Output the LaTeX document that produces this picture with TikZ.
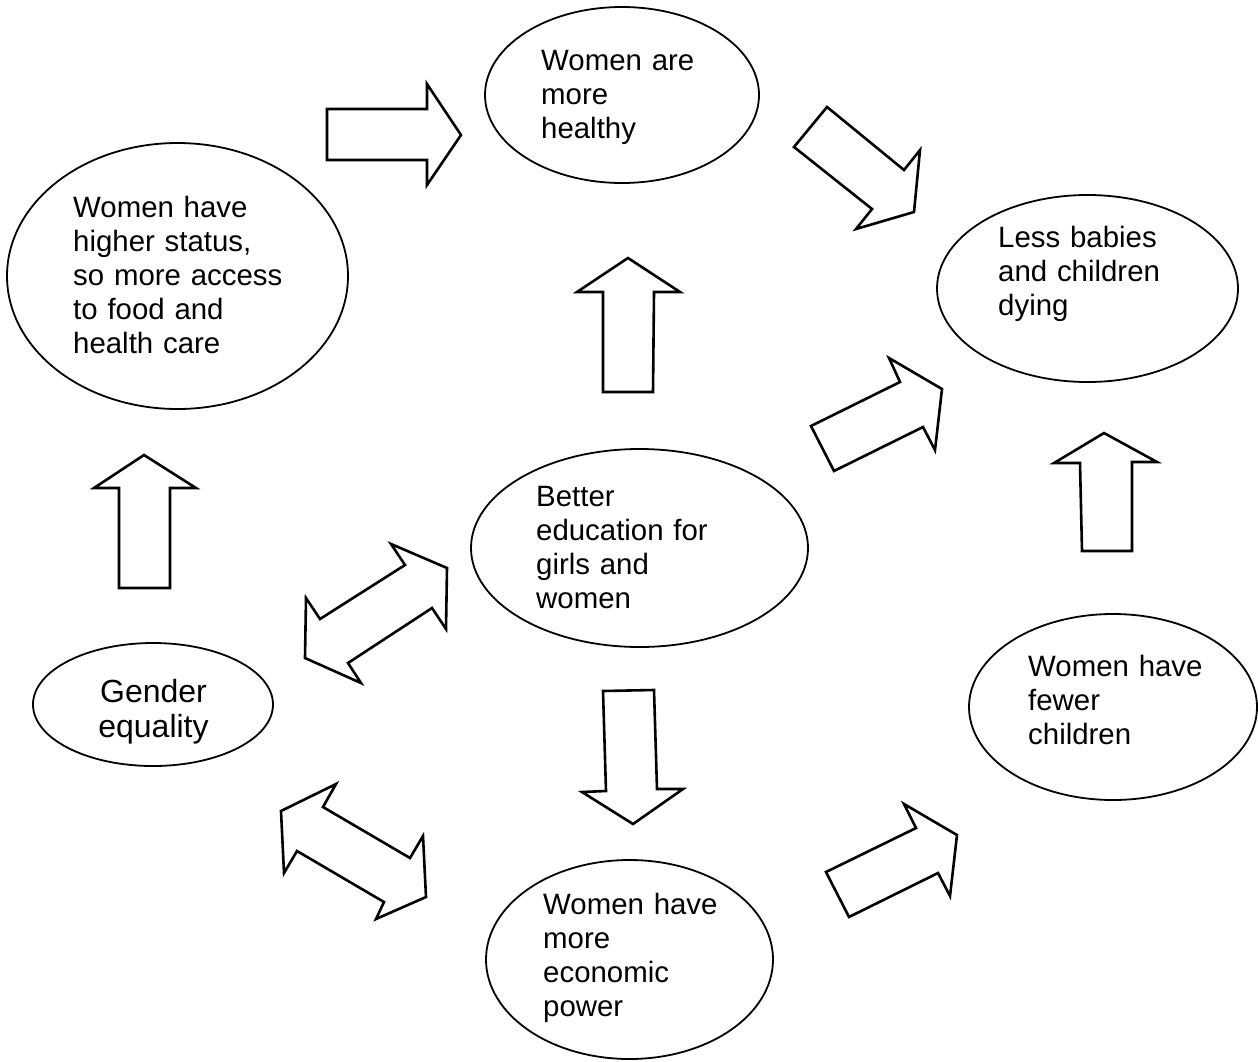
\documentclass[tikz,border=0pt]{standalone}
\usepackage{fontspec}
\setmainfont{Liberation Sans}
\usetikzlibrary{shapes.geometric}
\begin{document}
\begin{tikzpicture}[x=1pt,y=-1pt,
  bubble/.style={draw=black, line width=1.8pt, ellipse, inner sep=0pt},
  blockarrow/.style={draw=black, fill=white, line width=2.6pt, line join=miter},
  lbl/.style={anchor=base west, inner sep=0pt, text width=230pt, align=left, font=\fontsize{29.4}{34}\selectfont},
  lblg/.style={anchor=base, inner sep=0pt, text width=160pt, align=center, font=\fontsize{32}{35}\selectfont}]
\useasboundingbox (0,0) rectangle (1258,1061);

% ellipses
\node[bubble, minimum width=274pt, minimum height=176pt] (healthy) at (622,95) {};
\node[bubble, minimum width=341pt, minimum height=266pt] (status) at (177.5,276) {};
\node[bubble, minimum width=301pt, minimum height=187pt] (babies) at (1087.5,288.5) {};
\node[bubble, minimum width=337pt, minimum height=198pt] (education) at (639.5,548) {};
\node[bubble, minimum width=240pt, minimum height=123pt] (gender) at (153,704.5) {};
\node[bubble, minimum width=288pt, minimum height=186pt] (fewer) at (1113,707) {};
\node[bubble, minimum width=287pt, minimum height=199pt] (economic) at (629.5,959.5) {};

% labels
\node[lbl] (thealthy) at (541,70) {Women are\\more\\healthy};
\node[lbl] (tstatus) at (73,217) {Women have\\higher status,\\so more access\\to food and\\health care};
\node[lbl] (tbabies) at (998,247) {Less babies\\and children\\dying};
\node[lbl] (teducation) at (536,506) {Better\\education for\\girls and\\women};
\node[lblg] (tgender) at (153.5,702) {Gender\\equality};
\node[lbl] (tfewer) at (1028,676) {Women have\\fewer\\children};
\node[lbl] (teconomic) at (543,914) {Women have\\more\\economic\\power};

% block arrows
\draw[blockarrow] (327,109) -- (427,109) -- (427,84) -- (461,135) -- (427,185) -- (427,160) -- (327,160) -- cycle;
\draw[blockarrow] (827,107) -- (904,170) -- (920,150) -- (914,212) -- (856,229) -- (872,209) -- (794,147) -- cycle;
\draw[blockarrow] (628,258) -- (680,292) -- (654,292) -- (653,392) -- (603,392) -- (603,292) -- (577,292) -- cycle;
\draw[blockarrow] (889,358) -- (942,389) -- (935,450) -- (923,427) -- (834,471) -- (811,426) -- (900,382) -- cycle;
\draw[blockarrow] (1104,433) -- (1157,462) -- (1132,462) -- (1132,551) -- (1082,551) -- (1080,463) -- (1054,463) -- cycle;
\draw[blockarrow] (144,455) -- (196,488) -- (170,488) -- (170,588) -- (119,588) -- (119,488) -- (94,488) -- cycle;
\draw[blockarrow] (391,544) -- (447,568) -- (446,629) -- (432,608) -- (348,663) -- (361,683) -- (305,658) -- (306,598) -- (320,619) -- (405,565) -- cycle;
\draw[blockarrow] (603,691) -- (654,690) -- (657,789) -- (683,789) -- (633,824) -- (582,792) -- (606,791) -- cycle;
\draw[blockarrow] (336,784) -- (323,807) -- (410,858) -- (423,836) -- (426,897) -- (376,919) -- (384,902) -- (297,851) -- (284,873) -- (281,811) -- cycle;
\draw[blockarrow] (904,804) -- (957,835) -- (950,896) -- (938,873) -- (849,917) -- (826,872) -- (916,828) -- cycle;
\end{tikzpicture}
\end{document}
